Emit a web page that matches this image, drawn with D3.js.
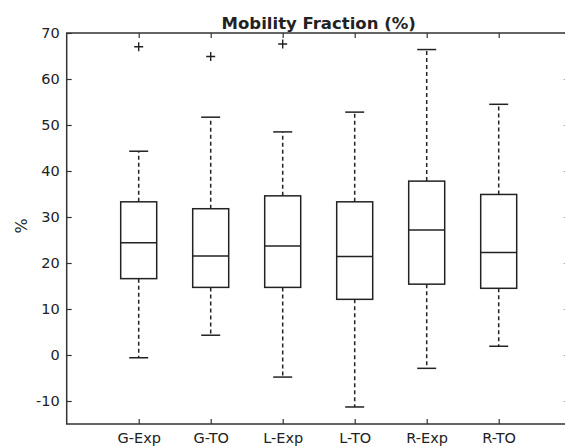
<!DOCTYPE html>
<meta charset="utf-8">
<html>
  <head>
    <script src="https://d3js.org/d3.v7.min.js"></script>
    <style>
      body { margin: 0; background: #fff; }
      text { font-family: "DejaVu Sans", sans-serif; fill: #222; }
    </style>
  </head>
  <body>
    <div id="chart"></div>

    <script type="text/javascript">
      // data
      var groups   = ["G-Exp", "G-TO", "L-Exp", "L-TO", "R-Exp", "R-TO"];
      var lowWhisk = [-0.6, 4.3, -4.8, -11.3, -2.9, 1.9];
      var q1       = [16.6, 14.7, 14.7, 12.1, 15.4, 14.5];
      var medians  = [24.4, 21.5, 23.7, 21.4, 27.2, 22.3];
      var q3       = [33.3, 31.8, 34.6, 33.3, 37.8, 34.9];
      var upWhisk  = [44.3, 51.7, 48.5, 52.8, 66.4, 54.5];
      var outliers = [[67.0], [64.9], [67.6], [], [], []];
      var yTicks   = [-10, 0, 10, 20, 30, 40, 50, 60, 70];

      var width = 565, height = 447,
          pLeft = 66.7, pRight = 570.7, pTop = 33, pBottom = 424,
          boxW = 36, capW = 19;

      var svg = d3.select("#chart").append("svg")
          .attr("width", width)
          .attr("height", height);

      var x = d3.scaleLinear().domain([0, groups.length + 1]).range([pLeft, pRight]);
      var y = d3.scaleLinear().domain([-15, 70]).range([pBottom, pTop]);

      var data = groups.map(function(g, i) {
        return { name: g, pos: i + 1, lo: lowWhisk[i], q1: q1[i], med: medians[i],
                 q3: q3[i], hi: upWhisk[i], out: outliers[i] };
      });

      // axes
      var yAxis = d3.axisLeft(y).tickValues(yTicks).tickSize(-5).tickPadding(7)
          .tickFormat(function(d) { return String(d); });
      svg.append("g").attr("transform", "translate(" + pLeft + ",0)").call(yAxis)
        .call(function(g) { g.select(".domain").remove(); })
        .call(function(g) { g.selectAll("text").style("font-size", "14.5px").attr("fill", "#222"); })
        .call(function(g) { g.selectAll("line").attr("stroke", "#333").attr("stroke-width", 1.2); });

      svg.append("g").attr("transform", "translate(" + pRight + ",0)")
        .call(d3.axisRight(y).tickValues(yTicks).tickSize(-7).tickFormat(""))
        .call(function(g) { g.select(".domain").remove(); })
        .call(function(g) { g.selectAll("line").attr("stroke", "#aaa").attr("stroke-width", 1); });

      var xAxis = d3.axisBottom(x).tickValues(data.map(function(d) { return d.pos; }))
          .tickFormat(function(d) { return groups[d - 1]; }).tickSize(-5).tickPadding(9);
      svg.append("g").attr("transform", "translate(0," + pBottom + ")").call(xAxis)
        .call(function(g) { g.select(".domain").remove(); })
        .call(function(g) { g.selectAll("text").style("font-size", "14.5px").attr("fill", "#222"); })
        .call(function(g) { g.selectAll("line").attr("stroke", "#333").attr("stroke-width", 1.2); });

      svg.append("g").attr("transform", "translate(0," + pTop + ")")
        .call(d3.axisTop(x).tickValues(data.map(function(d) { return d.pos; })).tickSize(-5).tickFormat(""))
        .call(function(g) { g.select(".domain").remove(); })
        .call(function(g) { g.selectAll("line").attr("stroke", "#333").attr("stroke-width", 1.2); });

      // frame
      svg.append("rect")
        .attr("x", pLeft).attr("y", pTop)
        .attr("width", pRight - pLeft).attr("height", pBottom - pTop)
        .attr("fill", "none").attr("stroke", "#333").attr("stroke-width", 1.5);

      var box = svg.selectAll(".box").data(data).enter().append("g").attr("class", "box");

      // whiskers
      box.append("line")
        .attr("x1", function(d) { return x(d.pos); }).attr("x2", function(d) { return x(d.pos); })
        .attr("y1", function(d) { return y(d.q3); }).attr("y2", function(d) { return y(d.hi); })
        .attr("stroke", "#222").attr("stroke-width", 1.5).attr("stroke-dasharray", "4,3");
      box.append("line")
        .attr("x1", function(d) { return x(d.pos); }).attr("x2", function(d) { return x(d.pos); })
        .attr("y1", function(d) { return y(d.q1); }).attr("y2", function(d) { return y(d.lo); })
        .attr("stroke", "#222").attr("stroke-width", 1.5).attr("stroke-dasharray", "4,3");

      ["hi", "lo"].forEach(function(k) {
        box.append("line")
          .attr("x1", function(d) { return x(d.pos) - capW / 2; })
          .attr("x2", function(d) { return x(d.pos) + capW / 2; })
          .attr("y1", function(d) { return y(d[k]); }).attr("y2", function(d) { return y(d[k]); })
          .attr("stroke", "#222").attr("stroke-width", 1.5);
      });

      box.append("rect")
        .attr("x", function(d) { return x(d.pos) - boxW / 2; })
        .attr("y", function(d) { return y(d.q3); })
        .attr("width", boxW)
        .attr("height", function(d) { return y(d.q1) - y(d.q3); })
        .attr("fill", "none").attr("stroke", "#222").attr("stroke-width", 1.5);

      box.append("line")
        .attr("x1", function(d) { return x(d.pos) - boxW / 2; })
        .attr("x2", function(d) { return x(d.pos) + boxW / 2; })
        .attr("y1", function(d) { return y(d.med); }).attr("y2", function(d) { return y(d.med); })
        .attr("stroke", "#222").attr("stroke-width", 1.5);

      // outliers as plus signs
      box.selectAll(".out").data(function(d) { return d.out.map(function(v) { return { pos: d.pos, v: v }; }); })
        .enter().append("path").attr("class", "out")
        .attr("d", function(d) {
          var cx = x(d.pos), cy = y(d.v), r = 4.5;
          return "M" + (cx - r) + "," + cy + "H" + (cx + r) + "M" + cx + "," + (cy - r) + "V" + (cy + r);
        })
        .attr("stroke", "#222").attr("stroke-width", 1.4);

      // labels
      svg.append("text")
        .attr("x", (pLeft + pRight) / 2).attr("y", 29)
        .attr("text-anchor", "middle")
        .style("font-size", "16.5px").style("font-weight", "bold")
        .attr("fill", "#111")
        .text("Mobility Fraction (%)");

      svg.append("text")
        .attr("transform", "translate(27,226) rotate(-90)")
        .attr("text-anchor", "middle")
        .style("font-size", "16px")
        .text("%");
    </script>
  </body>
</html>
